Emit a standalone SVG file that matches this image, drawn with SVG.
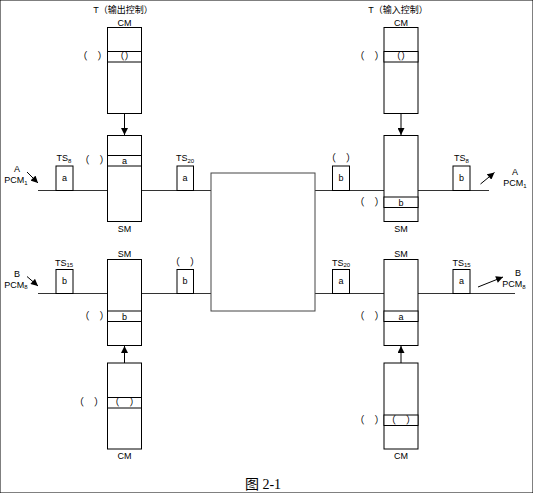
<svg xmlns="http://www.w3.org/2000/svg" width="533" height="493" viewBox="0 0 533 493">
<defs>
<marker id="ah" viewBox="0 0 10 10" refX="10" refY="5" markerWidth="8" markerHeight="7" markerUnits="userSpaceOnUse" orient="auto">
<path d="M0,0 L10,5 L0,10 z" fill="#000"/>
</marker>
<marker id="av" viewBox="0 0 10 10" refX="10" refY="5" markerWidth="10" markerHeight="7" markerUnits="userSpaceOnUse" orient="auto">
<path d="M0,0 L10,5 L0,10 z" fill="#000"/>
</marker>
</defs>
<style>
rect{fill:#fff;stroke:#000;stroke-width:1}
.ln{stroke:#333;stroke-width:1;fill:none}
.c{stroke:#444}
text{font-family:"Liberation Sans","Noto Sans CJK SC",sans-serif;font-size:9px;fill:#000;text-anchor:middle}
.p{font-size:10px}
.s{font-size:6px}
.cap{font-family:"Liberation Serif","Noto Sans CJK SC",serif;font-size:14px}
</style>
<rect width="533" height="493" fill="#fff" stroke="none"/>

<g id="connectors">
<line class="ln" x1="38" y1="190.5" x2="107.5" y2="190.5"/>
<line class="ln" x1="141.5" y1="190.5" x2="211" y2="190.5"/>
<line class="ln" x1="315" y1="190.5" x2="384" y2="190.5"/>
<line class="ln" x1="418" y1="190.5" x2="489" y2="190.5"/>
<line class="ln" x1="38" y1="293.5" x2="107.5" y2="293.5"/>
<line class="ln" x1="141.5" y1="293.5" x2="211" y2="293.5"/>
<line class="ln" x1="315" y1="293.5" x2="384" y2="293.5"/>
<line class="ln" x1="418" y1="293.5" x2="515" y2="293.5"/>
<line x1="124.5" y1="113" x2="124.5" y2="135" stroke="#000" marker-end="url(#av)"/>
<line x1="401" y1="113" x2="401" y2="135" stroke="#000" marker-end="url(#av)"/>
<line x1="124.5" y1="363" x2="124.5" y2="346" stroke="#000" marker-end="url(#av)"/>
<line x1="401" y1="363" x2="401" y2="346" stroke="#000" marker-end="url(#av)"/>
<line x1="27" y1="172" x2="38" y2="183" stroke="#000" marker-end="url(#ah)"/>
<line x1="27" y1="276.5" x2="38" y2="286" stroke="#000" marker-end="url(#ah)"/>
<line x1="480.5" y1="184" x2="494.5" y2="172.5" stroke="#000" marker-end="url(#ah)"/>
<line x1="478" y1="287" x2="503" y2="277" stroke="#000" marker-end="url(#ah)"/>
</g>

<g id="switch">
<rect class="c" x="211" y="173" width="104" height="138"/>
</g>

<g id="cm-out">
<text x="123" y="13">T（输出控制）</text>
<text x="124.5" y="25.5">CM</text>
<rect x="107.5" y="27.5" width="34" height="86"/>
<rect x="107.5" y="51.5" width="34" height="10.5"/>
<text x="124.5" y="60" class="p">（）</text>
<text x="92.5" y="60" class="p">（　）</text>
</g>

<g id="sm-out">
<rect x="107.5" y="135.5" width="34" height="86"/>
<rect x="107.5" y="155.5" width="34" height="10.5"/>
<text x="124.5" y="164">a</text>
<text x="94.5" y="164" class="p">（　）</text>
<text x="124.5" y="231.5">SM</text>
</g>

<g id="cm-in">
<text x="398" y="13">T（输入控制）</text>
<text x="401" y="25.5">CM</text>
<rect x="384" y="27.5" width="34" height="86"/>
<rect x="384" y="51.5" width="34" height="10.5"/>
<text x="401" y="60" class="p">（）</text>
<text x="369.5" y="60" class="p">（　）</text>
</g>

<g id="sm-in">
<rect x="384" y="135.5" width="34" height="86"/>
<rect x="384" y="197" width="34" height="10.5"/>
<text x="401" y="205.5">b</text>
<text x="369.5" y="205.5" class="p">（　）</text>
<text x="401" y="231.5">SM</text>
</g>

<g id="sm-out-b">
<text x="124.5" y="256.5">SM</text>
<rect x="107.5" y="259.5" width="34" height="86"/>
<rect x="107.5" y="311" width="34" height="10.5"/>
<text x="124.5" y="319.5">b</text>
<text x="94.5" y="319.5" class="p">（　）</text>
</g>

<g id="cm-out-b">
<rect x="107.5" y="363" width="34" height="86"/>
<rect x="107.5" y="397.5" width="34" height="10.5"/>
<text x="124.5" y="406" class="p">（　）</text>
<text x="89" y="406" class="p">（　）</text>
<text x="124.5" y="458.5">CM</text>
</g>

<g id="sm-in-b">
<text x="401" y="256.5">SM</text>
<rect x="384" y="259.5" width="34" height="86"/>
<rect x="384" y="311" width="34" height="10.5"/>
<text x="401" y="319.5">a</text>
<text x="369.5" y="319.5" class="p">（　）</text>
</g>

<g id="cm-in-b">
<rect x="384" y="363" width="34" height="86"/>
<rect x="384" y="415" width="34" height="10.5"/>
<text x="401" y="423.5" class="p">（　）</text>
<text x="369.5" y="423.5" class="p">（　）</text>
<text x="401" y="458.5">CM</text>
</g>

<g id="ts-a-in">
<text x="17" y="172">A</text>
<text x="16" y="183">PCM<tspan class="s" dy="1.5">1</tspan></text>
<text x="64" y="161">TS<tspan class="s" dy="1.5">8</tspan></text>
<rect x="56" y="166" width="17" height="24.5"/>
<text x="64.5" y="181">a</text>
</g>

<g id="ts-a-mid">
<text x="185" y="161">TS<tspan class="s" dy="1.5">20</tspan></text>
<rect x="177" y="166" width="16.5" height="24.5"/>
<text x="185" y="181">a</text>
</g>

<g id="ts-b-mid">
<text x="341" y="162" class="p">（　）</text>
<rect x="332.5" y="166" width="17" height="24.5"/>
<text x="341" y="181">b</text>
</g>

<g id="ts-b-out">
<text x="461.5" y="161">TS<tspan class="s" dy="1.5">8</tspan></text>
<rect x="453" y="166" width="17" height="24.5"/>
<text x="461.5" y="181">b</text>
<text x="515" y="175">A</text>
<text x="515" y="186">PCM<tspan class="s" dy="1.5">1</tspan></text>
</g>

<g id="ts-b-in">
<text x="17" y="276.5">B</text>
<text x="16" y="287.5">PCM<tspan class="s" dy="1.5">8</tspan></text>
<text x="64" y="265.5">TS<tspan class="s" dy="1.5">15</tspan></text>
<rect x="56" y="269.5" width="17" height="24"/>
<text x="64.5" y="284">b</text>
</g>

<g id="ts-b-mid2">
<text x="185" y="265.5" class="p">（　）</text>
<rect x="177" y="269.5" width="16.5" height="24"/>
<text x="185" y="284">b</text>
</g>

<g id="ts-a-mid2">
<text x="341" y="265.5">TS<tspan class="s" dy="1.5">20</tspan></text>
<rect x="332.5" y="269.5" width="17" height="24"/>
<text x="341" y="284">a</text>
</g>

<g id="ts-a-out">
<text x="461.5" y="265.5">TS<tspan class="s" dy="1.5">15</tspan></text>
<rect x="453" y="269.5" width="17" height="24"/>
<text x="461.5" y="284">a</text>
<text x="518" y="276">B</text>
<text x="514" y="287">PCM<tspan class="s" dy="1.5">8</tspan></text>
</g>

<text class="cap" x="263" y="489">图 2-1</text>
</svg>
